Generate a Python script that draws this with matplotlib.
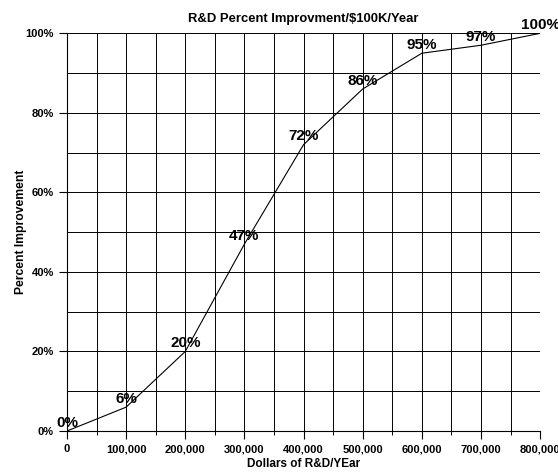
import numpy as np
import matplotlib.pyplot as plt
from matplotlib.ticker import MultipleLocator, FuncFormatter

plt.rcParams['font.family'] = ['Liberation Sans', 'DejaVu Sans']
plt.rcParams['font.weight'] = 'bold'

dollars = [0, 100000, 200000, 300000, 400000, 500000, 600000, 700000, 800000]
improvement = [0, 6, 20, 47, 72, 86, 95, 97, 100]
point_labels = ["0%", "6%", "20%", "47%", "72%", "86%", "95%", "97%", "100%"]

fig = plt.figure(figsize=(5.58, 4.74), dpi=100)
ax = fig.add_axes([0.120, 0.0907, 0.848, 0.839])

ax.plot(dollars, improvement, color='black', lw=0.8, zorder=3)

# value labels sit just above each point
for x, y, lab in zip(dollars, improvement, point_labels):
    ax.annotate(lab, (x, y), xytext=(0, 6), textcoords='offset points',
                ha='center', va='center', fontsize=11, fontweight='bold',
                zorder=4, annotation_clip=False)

ax.set_xlim(0, 800000)
ax.set_ylim(0, 100)
ax.xaxis.set_major_locator(MultipleLocator(100000))
ax.xaxis.set_minor_locator(MultipleLocator(50000))
ax.yaxis.set_major_locator(MultipleLocator(20))
ax.yaxis.set_minor_locator(MultipleLocator(10))
ax.xaxis.set_major_formatter(FuncFormatter(lambda v, p: "{:,.0f}".format(v)))
ax.yaxis.set_major_formatter(FuncFormatter(lambda v, p: "{:.0f}%".format(v)))

ax.grid(which='both', color='black', lw=0.7)
ax.set_axisbelow(True)
for s in ['top', 'right']:
    ax.spines[s].set_visible(False)
ax.spines['left'].set_linewidth(0.8)
ax.spines['bottom'].set_linewidth(0.8)

ax.tick_params(axis='both', which='major', labelsize=8, length=6, width=0.8)
ax.tick_params(axis='y', which='minor', length=0)
ax.tick_params(axis='x', which='minor', length=3, width=0.7)
for t in ax.get_xticklabels() + ax.get_yticklabels():
    t.set_fontweight('bold')

ax.set_title("R&D Percent Improvment/$100K/Year", fontsize=9.4, fontweight='bold', pad=8)
ax.set_xlabel("Dollars of R&D/YEar", fontsize=8.5, fontweight='bold', labelpad=3)
ax.set_ylabel("Percent Improvement", fontsize=8.7, fontweight='bold', labelpad=-1)

fig.savefig("out.png", dpi=100)
